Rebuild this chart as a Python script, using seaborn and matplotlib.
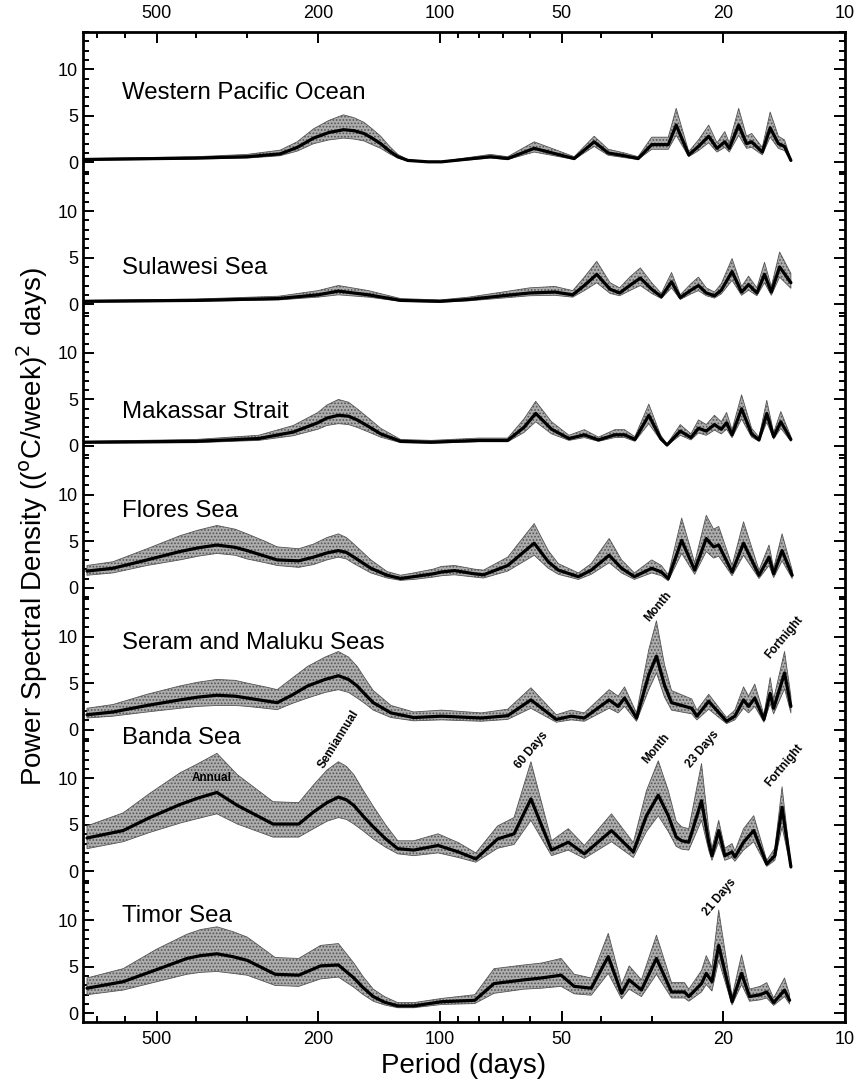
import numpy as np
import seaborn as sns
import matplotlib
matplotlib.use("Agg")
import matplotlib.pyplot as plt
from matplotlib.ticker import FixedLocator, FixedFormatter, NullFormatter

# ---------------------------------------------------------------------------
# Spectral estimates (period in days, PSD in (degC/week)^2 days) with the
# lower / upper confidence limits for every region.
# ---------------------------------------------------------------------------
wpo_period = [760, 400, 299, 248, 225, 205, 188, 173, 163, 154, 147, 140, 133, 127, 120, 107, 99, 75, 68,
              58.5, 46.6, 41.6, 38.4, 35.0, 32.4, 30.0, 27.3, 26.1, 24.3, 23.0, 21.7, 20.7, 19.8, 19.3, 18.3,
              17.5, 17.0, 16.0, 15.3, 14.6, 14.1, 13.6]
wpo_psd = [0.3, 0.45, 0.6, 0.9, 1.6, 2.6, 3.2, 3.5, 3.4, 3.1, 2.6, 2.0, 1.2, 0.6, 0.2, 0.05, 0.05, 0.6, 0.4,
           1.5, 0.4, 2.2, 1.0, 0.7, 0.4, 1.9, 1.9, 4.0, 0.8, 1.7, 2.8, 1.5, 2.2, 1.5, 4.0,
           2.0, 2.2, 1.1, 3.7, 2.0, 1.7, 0.2]
wpo_lo = [0.2, 0.35, 0.45, 0.7, 1.2, 2.0, 2.4, 2.6, 2.5, 2.3, 1.9, 1.5, 0.9, 0.45, 0.15, 0.0, 0.0, 0.45, 0.3,
          1.1, 0.3, 1.7, 0.75, 0.5, 0.3, 1.4, 1.4, 2.9, 0.6, 1.25, 2.1, 1.1, 1.6, 1.1, 2.9,
          1.5, 1.6, 0.8, 2.7, 1.5, 1.25, 0.15]
wpo_hi = [0.4, 0.6, 0.85, 1.3, 2.2, 3.6, 4.5, 5.1, 4.8, 4.3, 3.6, 2.8, 1.7, 0.85, 0.3, 0.1, 0.1, 0.85, 0.6,
          2.2, 0.6, 2.8, 1.4, 1.0, 0.6, 2.7, 2.7, 5.8, 1.15, 2.4, 4.0, 2.1, 3.3, 2.1, 5.8,
          2.8, 3.1, 1.6, 5.4, 2.8, 2.4, 0.3]

sul_period = [760, 400, 250, 200, 178, 150, 125, 100, 85, 70, 60, 52, 47, 44, 41, 38, 36, 34, 32, 30,
              28.4, 26.8, 25.5, 24, 23, 22, 21, 20.2, 19, 18, 17.3, 16.5, 15.8, 15.2, 14.5, 13.6]
sul_psd = [0.3, 0.4, 0.6, 1.0, 1.4, 1.0, 0.4, 0.3, 0.5, 0.9, 1.2, 1.3, 1.0, 2.0, 3.2, 1.6, 1.2, 2.0, 2.8, 1.6,
           0.8, 2.4, 0.7, 1.5, 2.0, 1.2, 0.9, 1.5, 3.5, 1.3, 2.1, 1.2, 3.2, 1.3, 4.0, 2.3]
sul_lo = [0.2, 0.3, 0.45, 0.75, 1.0, 0.75, 0.3, 0.2, 0.35, 0.65, 0.9, 0.95, 0.75, 1.45, 2.3, 1.15, 0.9, 1.45,
          2.0, 1.15, 0.6, 1.75, 0.5, 1.1, 1.45, 0.9, 0.65, 1.1, 2.55, 0.95, 1.5, 0.9, 2.3, 0.95, 2.9, 1.7]
sul_hi = [0.4, 0.55, 0.85, 1.45, 2.0, 1.45, 0.6, 0.45, 0.75, 1.3, 1.75, 1.9, 1.45, 2.9, 4.6, 2.3, 1.75, 2.9,
          3.9, 2.3, 1.15, 3.4, 1.0, 2.2, 2.9, 1.75, 1.3, 2.2, 4.9, 1.9, 3.0, 1.75, 4.5, 1.9, 5.6, 3.3]

mak_period = [760, 400, 280, 230, 200, 190, 178, 168, 160, 150, 140, 125, 105, 80, 68, 62, 58, 53, 48, 44,
              40.6, 37, 35, 33, 30.5, 28.5, 27.5, 25.5, 24, 23, 22, 21, 20.2, 19.6, 19, 18, 17, 16.3, 15.6,
              15, 14.4, 13.6]
mak_psd = [0.4, 0.5, 0.8, 1.5, 2.5, 3.0, 3.3, 3.2, 2.8, 2.1, 1.3, 0.5, 0.4, 0.6, 0.6, 2.0, 3.5, 1.8, 0.8, 1.2,
           0.65, 1.2, 1.2, 0.7, 3.3, 0.8, 0.1, 1.6, 0.9, 1.9, 1.6, 2.3, 1.8, 2.5, 1.2, 4.0, 1.3, 0.65, 3.5,
           1.0, 2.6, 0.7]
mak_lo = [0.3, 0.35, 0.6, 1.1, 1.8, 2.2, 2.4, 2.3, 2.0, 1.5, 0.95, 0.35, 0.3, 0.45, 0.45, 1.45, 2.6, 1.3, 0.6,
          0.9, 0.5, 0.9, 0.9, 0.5, 2.4, 0.6, 0.05, 1.15, 0.65, 1.4, 1.15, 1.7, 1.3, 1.8, 0.9, 2.9, 0.95,
          0.5, 2.55, 0.75, 1.9, 0.5]
mak_hi = [0.5, 0.7, 1.15, 2.2, 3.6, 4.4, 5.0, 4.7, 4.0, 3.0, 1.9, 0.7, 0.6, 0.85, 0.85, 2.9, 4.8, 2.6, 1.15,
          1.75, 0.95, 1.75, 1.75, 1.0, 4.5, 1.15, 0.2, 2.3, 1.3, 2.8, 2.3, 3.3, 2.6, 3.6, 1.75, 5.5, 1.9,
          0.95, 4.9, 1.45, 3.7, 1.0]

flo_period = [743, 641, 528, 438, 395, 355, 320, 299, 270, 252, 223, 205, 190, 178, 170, 163, 148, 135, 125,
              116, 104, 99, 92, 82, 78, 68, 58.5, 54, 51, 45.5, 42.3, 38.2, 35.6, 33.1, 30.0, 28.4, 27.3,
              25.3, 23.5, 22.0, 21.1, 20.5, 19.0, 17.8, 16.3, 15.4, 15.0, 14.3, 13.5]
flo_psd = [1.8, 2.1, 3.0, 3.9, 4.3, 4.6, 4.35, 4.0, 3.4, 3.0, 2.9, 3.3, 3.75, 4.0, 3.8, 3.3, 2.1, 1.35, 1.0,
           1.2, 1.5, 1.7, 1.85, 1.5, 1.4, 2.4, 4.8, 2.8, 1.9, 1.2, 1.9, 3.5, 2.1, 1.2, 2.1, 1.7, 1.0,
           5.1, 1.9, 5.3, 4.4, 4.6, 1.7, 4.8, 1.35, 3.3, 1.5, 4.0, 1.35]
flo_lo = [1.35, 1.6, 2.4, 3.0, 3.4, 3.7, 3.5, 3.1, 2.7, 2.4, 2.2, 2.5, 3.0, 3.3, 3.1, 2.6, 1.6, 1.05, 0.8,
          0.9, 1.15, 1.3, 1.4, 1.15, 1.05, 1.8, 3.5, 2.1, 1.45, 0.9, 1.45, 2.7, 1.6, 0.9, 1.6, 1.3, 0.75,
          3.7, 1.45, 3.9, 3.2, 3.4, 1.3, 3.5, 1.0, 2.4, 1.1, 2.9, 1.0]
flo_hi = [2.4, 2.8, 4.2, 5.6, 6.2, 6.7, 6.3, 5.8, 5.0, 4.4, 4.2, 4.7, 5.4, 5.8, 5.4, 4.7, 3.0, 1.75, 1.35,
          1.6, 2.0, 2.3, 2.4, 2.0, 1.9, 3.3, 6.9, 4.0, 2.6, 1.6, 2.6, 5.3, 3.0, 1.6, 3.0, 2.4, 1.4,
          7.5, 2.7, 7.8, 6.3, 6.6, 2.4, 7.1, 1.9, 4.6, 2.1, 5.8, 1.9]

ser_period = [743, 641, 528, 438, 395, 355, 320, 299, 270, 252, 232, 212, 192, 178, 168, 160, 153, 146, 132,
              116, 99, 79, 68, 59.6, 51.6, 47.4, 44, 38.2, 36.3, 35.0, 32.7, 30.5, 29.2, 27.9, 26.8, 23.9,
              23.2, 21.7, 19.6, 18.7, 17.8, 17.3, 16.7, 15.85, 15.3, 15.0, 14.1, 13.6]
ser_psd = [1.6, 1.9, 2.6, 3.2, 3.5, 3.7, 3.6, 3.4, 3.1, 2.9, 3.7, 4.7, 5.4, 5.8, 5.4, 4.7, 3.8, 2.9, 1.8,
           1.3, 1.45, 1.25, 1.5, 3.2, 1.1, 1.45, 1.25, 3.2, 2.5, 3.4, 1.25, 5.9, 7.9, 4.8, 2.9, 2.3,
           1.45, 3.05, 0.9, 1.45, 3.2, 2.5, 3.4, 1.1, 3.9, 2.3, 6.1, 2.5]
ser_lo = [1.25, 1.45, 1.9, 2.3, 2.5, 2.6, 2.6, 2.5, 2.3, 2.15, 2.8, 3.4, 4.0, 4.3, 4.0, 3.4, 2.8, 2.1, 1.3,
          0.95, 1.05, 0.9, 1.1, 2.3, 0.8, 1.05, 0.9, 2.3, 1.8, 2.5, 0.9, 4.3, 6.1, 3.5, 2.1, 1.7,
          1.05, 2.2, 0.65, 1.05, 2.3, 1.8, 2.5, 0.8, 2.8, 1.7, 4.4, 1.8]
ser_hi = [2.3, 2.7, 3.8, 4.7, 5.1, 5.4, 5.3, 5.0, 4.6, 4.3, 5.5, 6.8, 7.8, 8.4, 7.8, 6.8, 5.5, 4.2, 2.6,
          1.9, 2.1, 1.8, 2.2, 4.5, 1.6, 2.1, 1.8, 4.3, 3.6, 4.6, 1.8, 8.6, 11.7, 7.0, 4.2, 3.3,
          2.1, 3.8, 1.3, 2.1, 4.6, 3.6, 4.9, 1.6, 5.6, 3.3, 8.4, 3.6]

ban_period = [743, 605, 520, 438, 395, 355, 316, 258, 223, 205, 190, 178, 170, 163, 155, 146, 136, 127, 116,
              101, 90, 81.5, 72, 65.6, 59.6, 53, 48.2, 44, 37.7, 33.3, 30.9, 28.9, 27.3, 26.1, 25.3, 24.3,
              22.6, 21.7, 21.3, 20.5, 19.8, 19.0, 18.7, 17.8, 16.8, 15.6, 14.9, 14.3, 13.6]
ban_psd = [3.6, 4.4, 5.8, 7.2, 7.9, 8.5, 7.1, 5.1, 5.1, 6.4, 7.4, 8.0, 7.7, 7.1, 6.0, 4.8, 3.5, 2.45, 2.3,
           2.8, 2.1, 1.35, 3.5, 4.05, 7.8, 2.3, 3.15, 1.9, 4.4, 2.1, 6.0, 8.2, 6.0, 3.7, 3.3, 3.15,
           7.6, 3.15, 1.7, 4.4, 1.7, 2.1, 1.55, 3.15, 4.4, 0.8, 1.7, 6.9, 0.5]
ban_lo = [2.45, 3.2, 4.2, 5.2, 5.7, 6.2, 5.1, 3.7, 3.7, 4.6, 5.4, 5.8, 5.6, 5.1, 4.4, 3.5, 2.6, 1.9, 1.7,
          2.0, 1.5, 1.0, 2.5, 2.9, 5.5, 1.7, 2.3, 1.4, 3.2, 1.5, 4.3, 6.0, 4.3, 2.7, 2.4, 2.3,
          5.5, 2.3, 1.2, 3.2, 1.2, 1.5, 1.1, 2.3, 3.2, 0.55, 1.2, 4.8, 0.35]
ban_hi = [4.9, 6.3, 8.4, 10.6, 11.6, 12.7, 10.4, 7.5, 7.4, 9.3, 10.9, 11.8, 11.3, 10.4, 8.8, 7.0, 5.0, 3.3, 3.3,
          4.05, 3.1, 2.0, 4.9, 5.8, 11.8, 3.3, 4.6, 2.8, 6.2, 3.1, 8.7, 11.9, 8.7, 5.4, 4.8, 4.6,
          11.6, 4.6, 2.5, 5.5, 2.5, 3.0, 2.2, 4.6, 6.0, 1.2, 2.5, 9.1, 0.7]

tim_period = [743, 605, 500, 421, 390, 355, 325, 299, 255, 223, 197, 178, 163, 155, 146, 137, 127, 116, 99,
              82, 73.5, 62, 56.2, 50.2, 46.6, 42.3, 38.4, 35.6, 34.1, 31.8, 29.2, 26.8, 24.9, 24.3, 22.6,
              22.0, 21.3, 20.5, 19.0, 18.0, 17.2, 16.2, 15.6, 15.0, 14.1, 13.7]
tim_psd = [2.7, 3.4, 4.7, 5.9, 6.2, 6.4, 6.1, 5.7, 4.2, 4.1, 5.1, 5.2, 3.8, 2.8, 1.8, 1.2, 0.8, 0.8, 1.25,
           1.4, 3.2, 3.6, 3.8, 4.1, 2.9, 2.7, 6.1, 2.15, 3.6, 2.5, 5.9, 2.3, 2.3, 1.8, 3.2,
           4.3, 3.4, 7.3, 1.25, 4.3, 1.8, 2.0, 2.3, 1.15, 2.5, 1.4]
tim_lo = [2.0, 2.5, 3.4, 4.2, 4.4, 4.5, 4.3, 4.1, 3.0, 2.9, 3.7, 3.9, 2.8, 2.05, 1.3, 0.9, 0.6, 0.6, 0.95,
          1.05, 2.15, 2.6, 2.7, 2.9, 2.1, 1.95, 4.3, 1.55, 2.6, 1.8, 4.2, 1.65, 1.65, 1.3, 2.3,
          3.1, 2.4, 5.7, 0.9, 3.1, 1.3, 1.45, 1.65, 0.85, 1.8, 1.0]
tim_hi = [3.8, 4.8, 6.9, 8.5, 9.0, 9.3, 8.8, 8.2, 6.0, 5.9, 7.3, 7.5, 5.4, 4.0, 2.6, 1.8, 1.15, 1.15, 1.6,
          2.0, 4.8, 5.2, 5.4, 5.9, 4.2, 3.8, 8.6, 3.1, 5.1, 3.6, 8.4, 3.3, 3.3, 2.6, 4.6,
          6.2, 4.9, 11.1, 1.8, 6.3, 2.6, 2.9, 3.3, 1.65, 3.8, 2.0]

region_names = ["Western Pacific Ocean", "Sulawesi Sea", "Makassar Strait", "Flores Sea",
                "Seram and Maluku Seas", "Banda Sea", "Timor Sea"]
region_data = [
    (wpo_period, wpo_psd, wpo_lo, wpo_hi),
    (sul_period, sul_psd, sul_lo, sul_hi),
    (mak_period, mak_psd, mak_lo, mak_hi),
    (flo_period, flo_psd, flo_lo, flo_hi),
    (ser_period, ser_psd, ser_lo, ser_hi),
    (ban_period, ban_psd, ban_lo, ban_hi),
    (tim_period, tim_psd, tim_lo, tim_hi),
]

# Named spectral lines: (region index, label, period, PSD height of the label)
peak_labels = [
    (4, "Month", 28.9, 13.2),
    (4, "Fortnight", 14.1, 9.9),
    (5, "Annual", 365, 10.0),
    (5, "Semiannual", 178, 14.2),
    (5, "60 Days", 59.2, 13.0),
    (5, "Month", 29.2, 13.2),
    (5, "23 Days", 22.5, 13.2),
    (5, "Fortnight", 14.1, 11.4),
    (6, "21 Days", 20.4, 12.5),
]

x_ticks = [500, 200, 100, 50, 20, 10]
x_minor = [700, 600, 400, 300, 90, 80, 70, 60, 40, 30]
y_ticks = [0, 5, 10]

# ---------------------------------------------------------------------------
# Layout: all regions share one frame, each stacked on its own baseline
# ---------------------------------------------------------------------------
STEP = 15.25                      # vertical spacing between stacked spectra
title_height = [7.4, 3.9, 3.7, 8.3, 9.3, 14.4, 10.5]
label_rotation = {"Annual": 0, "Semiannual": 58}

sns.set_theme(style="ticks")
plt.rcParams["font.family"] = ["Liberation Sans", "DejaVu Sans"]
plt.rcParams["hatch.linewidth"] = 0.8
for key in ("text.color", "axes.labelcolor", "xtick.color", "ytick.color", "axes.edgecolor"):
    plt.rcParams[key] = "black"

fig, ax = plt.subplots(figsize=(8.62, 10.89), dpi=100)
fig.subplots_adjust(left=83 / 862, right=845 / 862, top=1 - 31.7 / 1089, bottom=1 - 1021.7 / 1089)

n = len(region_names)
major_y, major_lbl, minor_y = [], [], []
for k, (name, (per, psd, lo, hi)) in enumerate(zip(region_names, region_data)):
    base = (n - 1 - k) * STEP
    per = np.asarray(per, float)
    ax.fill_between(per, np.asarray(lo) + base, np.asarray(hi) + base,
                    facecolor="#adadad", edgecolor="#555555", hatch=".....",
                    linewidth=0.6, zorder=2)
    sns.lineplot(x=per, y=np.asarray(psd) + base, ax=ax, color="black",
                 linewidth=2.3, estimator=None, sort=False, zorder=3)
    ax.text(610, base + title_height[k], name, fontsize=17.3, color="black",
            ha="left", va="center", zorder=4)
    for t in y_ticks:
        major_y.append(base + t)
        major_lbl.append(str(t))
    for t in range(-1, 15):
        if t not in y_ticks:
            minor_y.append(base + t)

for k, text, per, h in peak_labels:
    base = (n - 1 - k) * STEP
    ax.text(per, base + h, text, fontsize=8.5, fontweight="bold", color="black",
            rotation=label_rotation.get(text, 50), rotation_mode="anchor",
            ha="center", va="center", zorder=5)

ax.set_xscale("log")
ax.set_xlim(760, 10)
ax.set_ylim(-0.9, (n - 1) * STEP + 14.04)

ax.xaxis.set_major_locator(FixedLocator(x_ticks))
ax.xaxis.set_major_formatter(FixedFormatter([str(v) for v in x_ticks]))
ax.xaxis.set_minor_locator(FixedLocator(x_minor))
ax.xaxis.set_minor_formatter(NullFormatter())
ax.yaxis.set_major_locator(FixedLocator(major_y))
ax.yaxis.set_major_formatter(FixedFormatter(major_lbl))
ax.yaxis.set_minor_locator(FixedLocator([v for v in minor_y if v > -0.9]))

ax.tick_params(which="both", direction="in", top=True, right=True, labeltop=True,
               labelsize=13, colors="black", width=1.4)
ax.tick_params(which="major", length=8)
ax.tick_params(which="minor", length=4)
ax.tick_params(axis="x", pad=7)
for s in ax.spines.values():
    s.set_linewidth(2.0)
    s.set_color("black")

ax.set_xlabel("Period (days)", fontsize=20, labelpad=3)
ax.set_ylabel(r"Power Spectral Density (($^{\rm o}$C/week)$^2$ days)", fontsize=20, labelpad=6)

fig.savefig("out.png", dpi=100)
